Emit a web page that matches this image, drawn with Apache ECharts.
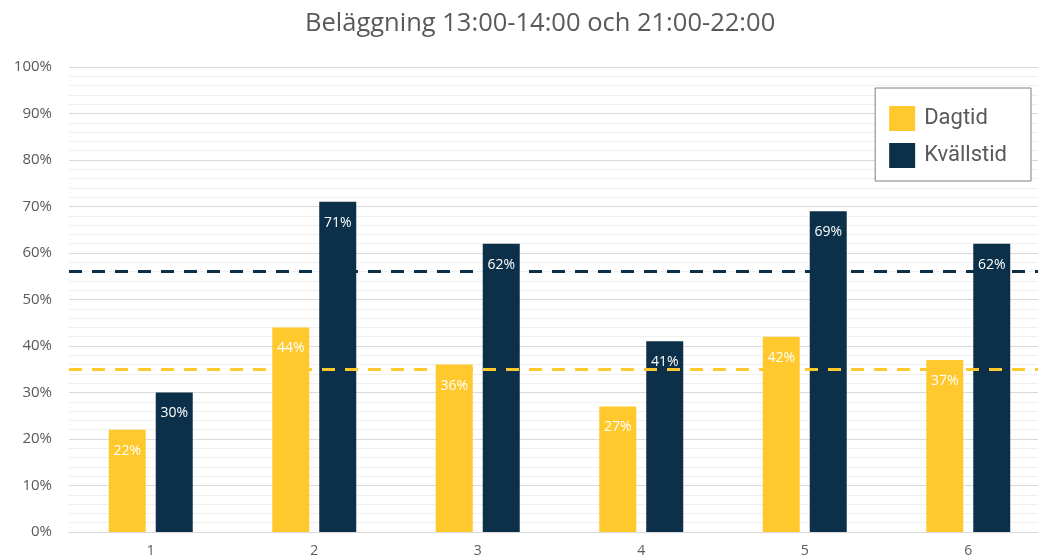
<!DOCTYPE html>
<html>
<head>
<meta charset="utf-8">
<script src="https://cdn.jsdelivr.net/npm/echarts@6/dist/echarts.min.js"></script>
<style>
html,body{margin:0;padding:0;background:#fff;}
#chart{width:1038px;height:560px;}
</style>
</head>
<body>
<div id="chart"></div>
<script>
var categories = ['1', '2', '3', '4', '5', '6'];
var dagtid = [22, 44, 36, 27, 42, 37];
var kvallstid = [30, 71, 62, 41, 69, 62];
var seriesNames = ['Dagtid', 'Kvällstid'];
var referenceLevels = [35, 56]; // dashed lines: Dagtid, Kvällstid
var titleText = 'Beläggning 13:00-14:00 och 21:00-22:00';

var YELLOW = '#FFC92E';
var DARK = '#0C3049';

var chart = echarts.init(document.getElementById('chart'));

function labelCfg() {
  return {
    show: true,
    position: 'insideTop',
    distance: 14,
    color: '#ffffff',
    fontFamily: 'Open Sans',
    fontSize: 14,
    formatter: function (p) { return p.value + '%'; }
  };
}

function refLine(color, level) {
  return {
    silent: true,
    symbol: ['none', 'none'],
    label: { show: false },
    lineStyle: { color: color, type: [13, 10], width: 3 },
    data: [{ yAxis: level }]
  };
}

chart.setOption({
  animation: false,
  textStyle: { fontFamily: 'Open Sans' },
  title: {
    text: titleText,
    left: 300,
    top: 6,
    textStyle: { fontFamily: 'Open Sans', fontSize: 25.5, fontWeight: 'normal', color: '#595959' }
  },
  legend: {
    orient: 'vertical',
    right: 7,
    top: 88,
    padding: [18, 24, 13, 14],
    itemGap: 12,
    itemWidth: 26,
    itemHeight: 25,
    backgroundColor: '#ffffff',
    borderColor: '#7f7f7f',
    borderWidth: 1,
    icon: 'rect',
    textStyle: { fontFamily: 'Roboto', fontSize: 22, color: '#595959', padding: [0, 0, 0, 4] },
    data: seriesNames
  },
  grid: { left: 69, width: 981, top: 67, bottom: 28, containLabel: false, outerBoundsMode: 'none' },
  xAxis: {
    type: 'category',
    data: categories,
    axisLine: { show: true, lineStyle: { color: '#d9d9d9', width: 1 } },
    axisTick: { show: false },
    axisLabel: { color: '#595959', fontSize: 14, margin: 12, fontFamily: 'Open Sans' }
  },
  yAxis: {
    type: 'value',
    min: 0,
    max: 100,
    interval: 10,
    axisLine: { show: false },
    axisTick: { show: false },
    axisLabel: { color: '#595959', fontSize: 15, margin: 17, fontFamily: 'Open Sans', formatter: '{value}%' },
    splitLine: { show: true, lineStyle: { color: '#d9d9d9', width: 1 } },
    minorTick: { show: false, splitNumber: 5 },
    minorSplitLine: { show: true, lineStyle: { color: '#efefef', width: 1 } }
  },
  series: [
    {
      name: seriesNames[0],
      type: 'bar',
      data: dagtid,
      barWidth: 37,
      barGap: '27%',
      itemStyle: { color: YELLOW },
      label: labelCfg(),
      markLine: refLine(YELLOW, referenceLevels[0]),
      z: 2
    },
    {
      name: seriesNames[1],
      type: 'bar',
      data: kvallstid,
      barWidth: 37,
      barGap: '27%',
      itemStyle: { color: DARK },
      label: labelCfg(),
      markLine: refLine(DARK, referenceLevels[1]),
      z: 2
    }
  ]
});
</script>
</body>
</html>
